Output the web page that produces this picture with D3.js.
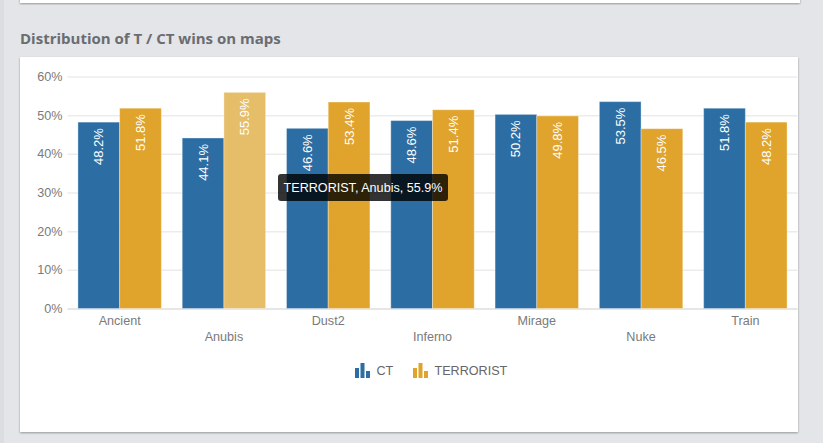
<!DOCTYPE html>
<html>
<head>
<meta charset="utf-8">
<script src="https://cdnjs.cloudflare.com/ajax/libs/d3/7.8.5/d3.min.js"></script>
<style>
  html, body { margin: 0; padding: 0; background: #e4e5e9; overflow: hidden; }
  #chart { display: block; }
  text { font-family: "Liberation Sans", Arial, sans-serif; }
</style>
</head>
<body>
<svg id="chart" width="823" height="443"></svg>
<script>
const maps = ["Ancient", "Anubis", "Dust2", "Inferno", "Mirage", "Nuke", "Train"];
const ctValues = [48.2, 44.1, 46.6, 48.6, 50.2, 53.5, 51.8];
const tValues = [51.8, 55.9, 53.4, 51.4, 49.8, 46.5, 48.2];
const seriesNames = ["CT", "TERRORIST"];
const yTicks = [0, 10, 20, 30, 40, 50, 60];
const colors = { CT: "#2c6ea4", TERRORIST: "#e0a32b" };
const hovered = { series: "TERRORIST", map: "Anubis", value: 55.9 };

const svg = d3.select("#chart");

const margin = { left: 67.5, right: 25.5, top: 76.5, bottom: 134.5 };
const width = 823, height = 443;

// page bits around the chart
svg.append("rect").attr("x", 0).attr("y", 0).attr("width", 4).attr("height", height).attr("fill", "#dcdde1");

const shadow = svg.append("defs").append("filter").attr("id", "cardShadow")
  .attr("x", "-5%").attr("y", "-5%").attr("width", "110%").attr("height", "110%");
shadow.append("feDropShadow").attr("dx", 0).attr("dy", 1).attr("stdDeviation", 1)
  .attr("flood-color", "#000").attr("flood-opacity", 0.35);

svg.append("rect").attr("x", 20).attr("y", -20).attr("width", 780).attr("height", 23)
  .attr("fill", "#fff").attr("filter", "url(#cardShadow)");
svg.append("rect").attr("x", 20).attr("y", 57).attr("width", 778).attr("height", 375)
  .attr("fill", "#fff").attr("filter", "url(#cardShadow)");

svg.append("text").attr("x", 20).attr("y", 44)
  .style("font-family", "'Open Sans', sans-serif")
  .attr("font-size", 15).attr("font-weight", 700).attr("fill", "#6b6c70")
  .text("Distribution of T / CT wins on maps");

const x = d3.scaleBand().domain(maps).range([margin.left, width - margin.right]).paddingInner(0.2).paddingOuter(0.1);
const xInner = d3.scaleBand().domain(seriesNames).range([0, x.bandwidth()]);
const y = d3.scaleLinear().domain([0, 60]).range([height - margin.bottom, margin.top]);

// gridlines + y labels
const yAxis = svg.append("g").attr("transform", `translate(${margin.left},0)`)
  .call(d3.axisLeft(y).tickValues(yTicks).tickSize(0).tickPadding(5).tickFormat(d => d + "%"));
yAxis.select(".domain").remove();
yAxis.selectAll("text").attr("font-size", 12.6).attr("fill", "#7a7a7a").style("font-family", "'Liberation Sans', sans-serif");
yAxis.selectAll(".tick").append("line")
  .attr("x1", 0).attr("x2", width - margin.right - margin.left)
  .attr("stroke", d => d === 0 ? "#e6e6e6" : "#ececec").attr("stroke-width", d => d === 0 ? 2 : 1.5);

// x labels, every second one pushed down
const xAxis = svg.append("g").attr("transform", `translate(0,${y(0)})`)
  .call(d3.axisBottom(x).tickSize(0).tickPadding(8));
xAxis.select(".domain").remove();
xAxis.selectAll("text")
  .attr("font-size", 12.6).attr("fill", "#7a7a7a").style("font-family", "'Liberation Sans', sans-serif")
  .attr("dy", (d, i) => i % 2 ? "1.95em" : "0.71em");

const rows = maps.map((m, i) => ({ map: m, CT: ctValues[i], TERRORIST: tValues[i] }));

const groups = svg.selectAll("g.group").data(rows).enter().append("g")
  .attr("class", "group")
  .attr("transform", d => `translate(${x(d.map)},0)`);

const bars = groups.selectAll("g.bar")
  .data(d => seriesNames.map(s => ({ series: s, map: d.map, value: d[s] })))
  .enter().append("g").attr("class", "bar");

const isHovered = d => d.series === hovered.series && d.map === hovered.map;

bars.append("rect")
  .attr("x", d => xInner(d.series))
  .attr("y", d => y(d.value))
  .attr("width", xInner.bandwidth())
  .attr("height", d => y(0) - y(d.value))
  .attr("fill", d => isHovered(d) ? "#e6bd69" : colors[d.series])
  .attr("stroke", "#fff").attr("stroke-opacity", 0.35).attr("stroke-width", 1);

// rotated value labels inside the bars
bars.append("text")
  .attr("transform", d => `translate(${xInner(d.series) + xInner.bandwidth() / 2},${y(d.value) + 6}) rotate(-90)`)
  .attr("text-anchor", "end")
  .attr("dy", "0.35em")
  .attr("font-size", 13).attr("fill", "#fff")
  .text(d => d.value.toFixed(1) + "%");

// legend
const legendItems = [{ name: "CT", x: 355 }, { name: "TERRORIST", x: 413 }];
const legendBars = [[5, 10], [0, 15], [8, 7]];
const legend = svg.selectAll("g.legend").data(legendItems).enter().append("g")
  .attr("class", "legend").attr("transform", d => `translate(${d.x},363)`);
legend.each(function (d) {
  d3.select(this).selectAll("rect").data(legendBars).enter().append("rect")
    .attr("x", (b, i) => i * 5.5)
    .attr("y", b => b[0])
    .attr("width", 4)
    .attr("height", b => b[1])
    .attr("fill", colors[d.name]);
});
legend.append("text").attr("x", 21.5).attr("y", 11.5)
  .attr("font-size", 12.6).attr("fill", "#666").text(d => d.name);

// tooltip
const tip = svg.append("g").attr("transform", "translate(278,174)");
tip.append("rect").attr("width", 170).attr("height", 27).attr("rx", 3).attr("fill", "#000").attr("fill-opacity", 0.8);
tip.append("text").attr("x", 85).attr("y", 17.5).attr("text-anchor", "middle")
  .attr("font-size", 12.6).attr("fill", "#fff")
  .text(`${hovered.series}, ${hovered.map}, ${hovered.value}%`);
</script>
</body>
</html>
